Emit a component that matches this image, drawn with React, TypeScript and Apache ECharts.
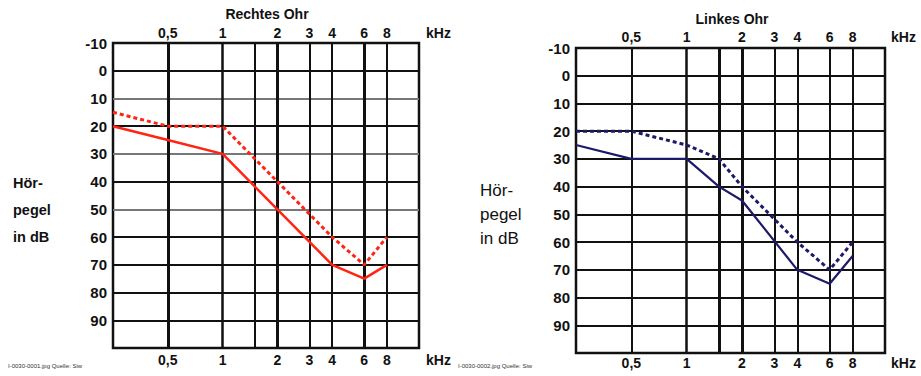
import React, { useEffect, useRef } from "react";
import * as echarts from "echarts";

// Frequency tick values (kHz) and their labels
const freqTicks = [0.5, 1, 2, 3, 4, 6, 8];
const freqLabels = ["0,5", "1", "2", "3", "4", "6", "8"];
// Vertical grid line frequencies
const gridFreqs = [0.5, 1, 1.5, 2, 3, 4, 6, 8];

// Rechtes Ohr (right ear, red)
const rechtsSolidFreq = [0.25, 0.5, 1, 2, 4, 6, 8];
const rechtsSolidDb = [20, 25, 30, 50, 70, 75, 70];
const rechtsDashFreq = [0.25, 0.5, 1, 2, 4, 6, 8];
const rechtsDashDb = [15, 20, 20, 40, 60, 70, 60];

// Linkes Ohr (left ear, navy)
const linksSolidFreq = [0.25, 0.5, 1, 1.5, 2, 4, 6, 8];
const linksSolidDb = [25, 30, 30, 40, 45, 70, 75, 65];
const linksDashFreq = [0.25, 0.5, 1, 1.5, 2, 4, 6, 8];
const linksDashDb = [20, 20, 25, 30, 40, 60, 70, 60];

const titles = ["Rechtes Ohr", "Linkes Ohr"];
const captions = ["I-0030-0001.jpg Quelle: Siw", "I-0030-0002.jpg Quelle: Siw"];

const FONT = "'Liberation Sans', Arial, sans-serif";
const RED = "#ff2414";
const NAVY = "#1d1a6a";

function zip(xs: number[], ys: number[]) {
  return xs.map((x, i) => [x, ys[i]]);
}

function fmtFreq(v: number) {
  let best = 0;
  let bd = Infinity;
  freqTicks.forEach((t, i) => {
    const d = Math.abs(Math.log(t) - Math.log(v));
    if (d < bd) {
      bd = d;
      best = i;
    }
  });
  return freqLabels[best];
}

export default function App() {
  const ref = useRef<HTMLDivElement>(null);
  useEffect(() => {
    if (!ref.current) return;
    const chart = echarts.init(ref.current, null, { renderer: "svg" });

    const grids = [
      { left: 113, top: 43, width: 306, height: 305 },
      { left: 576, top: 48, width: 309, height: 305 },
    ];
    const vWidths = [
      [3, 2.5, 2, 3, 2, 2, 3, 2],
      [2, 2.5, 3, 3, 2, 2, 2, 2],
    ];
    const hColors = [
      ["#111", "#111", "#777", "#111", "#777", "#111", "#777", "#111", "#111", "#111", "#111", "#111"],
      ["#111"],
    ];
    // label margins: [bottom, top] per grid
    const labelMargins = [
      [5, 3],
      [3, 4],
    ];

    const xAxis: any[] = [];
    const yAxis: any[] = [];
    grids.forEach((g, gi) => {
      ["bottom", "top"].forEach((pos, pi) => {
        xAxis.push({
          type: "log",
          logBase: 2,
          min: 0.25,
          max: 12,
          gridIndex: gi,
          position: pos,
          axisLine: { show: false },
          axisTick: { show: false },
          splitLine: { show: false },
          minorSplitLine: { show: false },
          axisLabel: {
            customValues: freqTicks,
            formatter: (v: number) => fmtFreq(v),
            fontFamily: FONT,
            fontWeight: "bold",
            fontSize: 14,
            color: "#111",
            margin: labelMargins[gi][pi],
          },
        });
      });
      yAxis.push({
        type: "value",
        gridIndex: gi,
        inverse: true,
        min: -10,
        max: 100,
        interval: 10,
        axisLine: { show: false },
        axisTick: { show: false },
        axisLabel: {
          formatter: (v: number) => (v === 100 ? "" : String(v)),
          fontFamily: FONT,
          fontWeight: "bold",
          fontSize: 15,
          color: "#111",
          margin: 6,
        },
        splitLine: { show: true, lineStyle: { color: hColors[gi], width: 2 } },
      });
    });

    const gridLineSeries = (gi: number) => ({
      type: "line",
      xAxisIndex: gi * 2,
      yAxisIndex: gi,
      data: [],
      z: 1,
      silent: true,
      markLine: {
        silent: true,
        symbol: ["none", "none"],
        label: { show: false },
        animation: false,
        data: gridFreqs.map((f, i) => ({
          xAxis: f,
          lineStyle: { color: "#111", width: vWidths[gi][i], type: "solid" },
        })),
      },
    });

    const dataSeries = (gi: number, freq: number[], db: number[], color: string, dashed: boolean, width: number) => ({
      type: "line",
      xAxisIndex: gi * 2,
      yAxisIndex: gi,
      data: zip(freq, db),
      showSymbol: false,
      symbol: "none",
      z: 5,
      lineStyle: { color, width, type: dashed ? [4, 3] : "solid" },
    });

    const textStyle = (extra: any) => ({ fontFamily: FONT, fill: "#111", ...extra });

    chart.setOption({
      animation: false,
      backgroundColor: "#fff",
      grid: grids.map((g) => ({ ...g, show: true, borderColor: "#111", borderWidth: 2.5, backgroundColor: "transparent" })),
      xAxis,
      yAxis,
      series: [
        gridLineSeries(0),
        gridLineSeries(1),
        dataSeries(0, rechtsSolidFreq, rechtsSolidDb, RED, false, 2.5),
        dataSeries(0, rechtsDashFreq, rechtsDashDb, RED, true, 3),
        dataSeries(1, linksSolidFreq, linksSolidDb, NAVY, false, 2.2),
        dataSeries(1, linksDashFreq, linksDashDb, NAVY, true, 3),
      ],
      graphic: [
        { type: "text", x: 267, y: 14, style: textStyle({ text: titles[0], fontSize: 14, fontWeight: "bold", align: "center", verticalAlign: "middle" }) },
        { type: "text", x: 732, y: 19, style: textStyle({ text: titles[1], fontSize: 14, fontWeight: "bold", align: "center", verticalAlign: "middle" }) },
        { type: "text", x: 426, y: 33, style: textStyle({ text: "kHz", fontSize: 14, fontWeight: "bold", verticalAlign: "middle" }) },
        { type: "text", x: 426, y: 360, style: textStyle({ text: "kHz", fontSize: 14, fontWeight: "bold", verticalAlign: "middle" }) },
        { type: "text", x: 891, y: 37, style: textStyle({ text: "kHz", fontSize: 14, fontWeight: "bold", verticalAlign: "middle" }) },
        { type: "text", x: 891, y: 363, style: textStyle({ text: "kHz", fontSize: 14, fontWeight: "bold", verticalAlign: "middle" }) },
        { type: "text", x: 13, y: 183, style: textStyle({ text: "Hör-", fontSize: 14.5, fontWeight: "bold", verticalAlign: "middle" }) },
        { type: "text", x: 13, y: 210, style: textStyle({ text: "pegel", fontSize: 14.5, fontWeight: "bold", verticalAlign: "middle" }) },
        { type: "text", x: 13, y: 237, style: textStyle({ text: "in dB", fontSize: 14.5, fontWeight: "bold", verticalAlign: "middle" }) },
        { type: "text", x: 480, y: 190, style: textStyle({ text: "Hör-", fontSize: 17, verticalAlign: "middle" }) },
        { type: "text", x: 480, y: 214, style: textStyle({ text: "pegel", fontSize: 17, verticalAlign: "middle" }) },
        { type: "text", x: 480, y: 238, style: textStyle({ text: "in dB", fontSize: 17, verticalAlign: "middle" }) },
        { type: "text", x: 8, y: 366, style: textStyle({ text: captions[0], fontSize: 6, fill: "#333", verticalAlign: "middle" }) },
        { type: "text", x: 458, y: 366, style: textStyle({ text: captions[1], fontSize: 6, fill: "#333", verticalAlign: "middle" }) },
      ],
    });
    return () => chart.dispose();
  }, []);
  return <div ref={ref} style={{ position: "fixed", left: 0, top: 0, width: 921, height: 376 }} />;
}
